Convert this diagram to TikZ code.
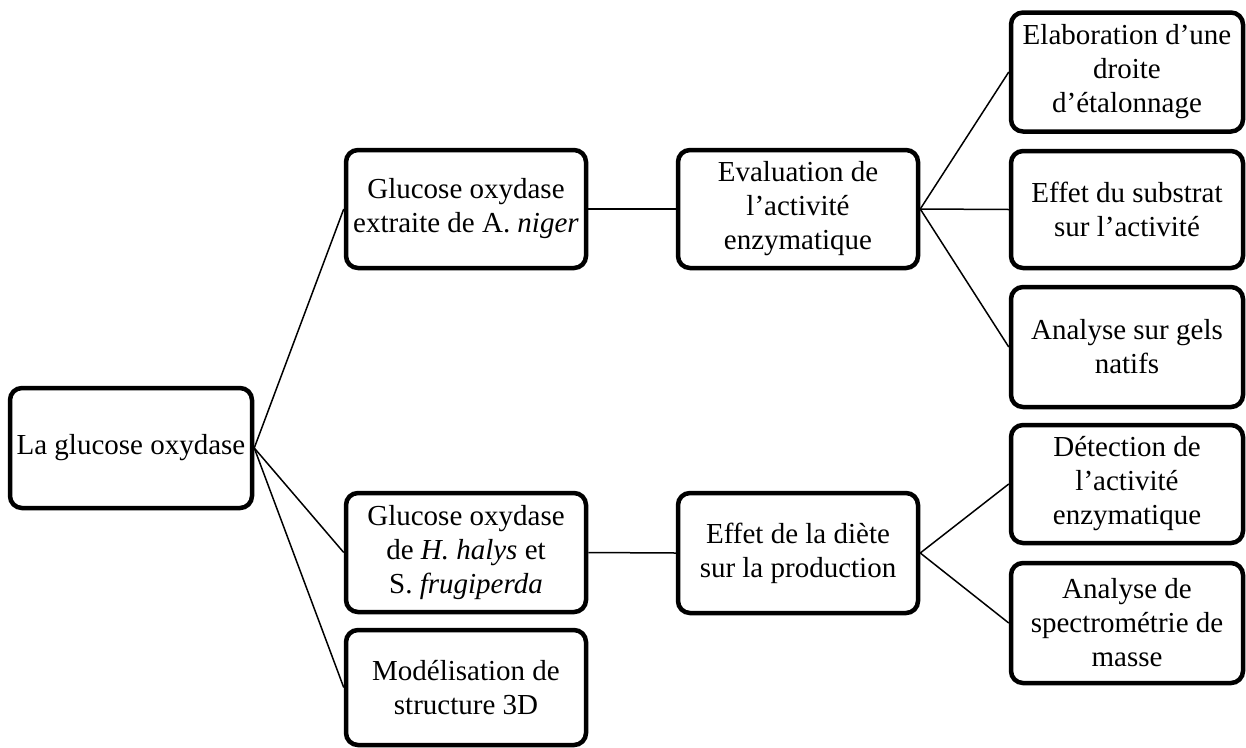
\documentclass[tikz,border=0pt]{standalone}
\usepackage{fontspec}
\setmainfont{Liberation Serif}
\begin{document}
\begin{tikzpicture}[x=1pt,y=-1pt,
  box/.style={draw=black, line width=4.5pt, rounded corners=12pt, align=center,
    inner sep=0pt, font=\fontsize{29}{34}\selectfont},
  link/.style={draw=black, line width=1.5pt}]
\useasboundingbox (0,0) rectangle (1246,747);
\node[box, minimum width=242pt, minimum height=120pt] (root) at (131,448) {La glucose oxydase};
\node[box, minimum width=240pt, minimum height=118pt] (A) at (466,209) {Glucose oxydase\\extraite de A. \textit{niger}};
\node[box, minimum width=240pt, minimum height=119pt] (B) at (466,552.5) {Glucose oxydase\\de \textit{H. halys} et\\S. \textit{frugiperda}};
\node[box, minimum width=240pt, minimum height=115pt] (M) at (466,687.5) {Modélisation de\\structure 3D};
\node[box, minimum width=240pt, minimum height=118pt] (C) at (798,209) {Evaluation de\\l’activité\\enzymatique};
\node[box, minimum width=240pt, minimum height=120pt] (D) at (798,553) {Effet de la diète\\sur la production};
\node[box, minimum width=232pt, minimum height=119pt] (E1) at (1127,72) {Elaboration d’une\\droite\\d’étalonnage};
\node[box, minimum width=232pt, minimum height=117pt] (E2) at (1127,209.5) {Effet du substrat\\sur l’activité};
\node[box, minimum width=232pt, minimum height=120pt] (E3) at (1127,347) {Analyse sur gels\\natifs};
\node[box, minimum width=232pt, minimum height=118pt] (F1) at (1127,484) {Détection de\\l’activité\\enzymatique};
\node[box, minimum width=232pt, minimum height=120pt] (F2) at (1127,623) {Analyse de\\spectrométrie de\\masse};
\draw[link] (root.east) -- (A.west);
\draw[link] (root.east) -- (B.west);
\draw[link] (root.east) -- (M.west);
\draw[link] (A.east) -- (C.west);
\draw[link] (B.east) -- (D.west);
\draw[link] (C.east) -- (E1.west);
\draw[link] (C.east) -- (E2.west);
\draw[link] (C.east) -- (E3.west);
\draw[link] (D.east) -- (F1.west);
\draw[link] (D.east) -- (F2.west);
\end{tikzpicture}
\end{document}
